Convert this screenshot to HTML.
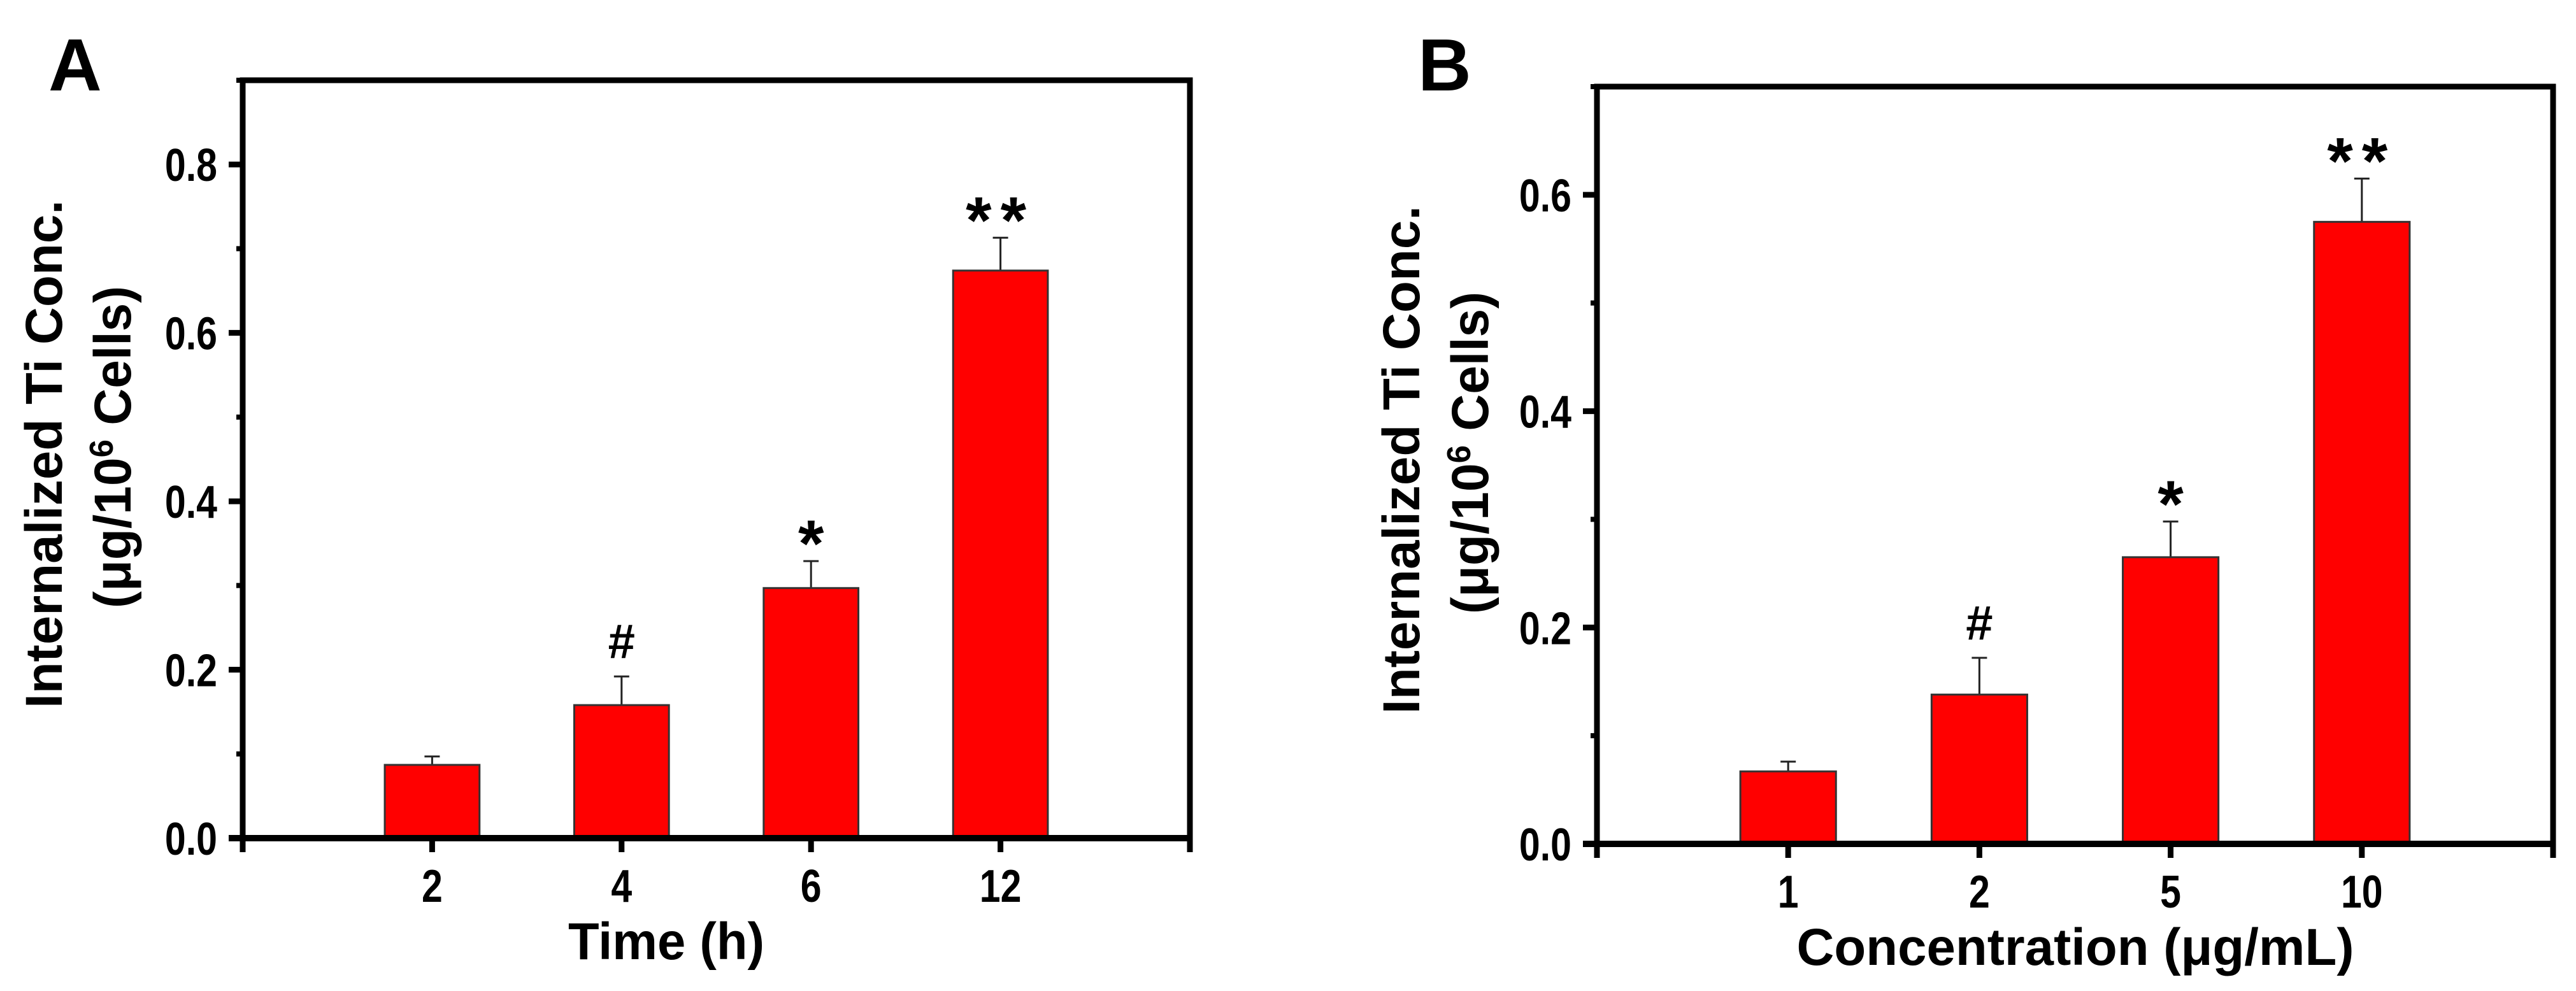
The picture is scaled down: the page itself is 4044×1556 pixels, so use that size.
<!DOCTYPE html>
<html><head><meta charset="utf-8">
<style>
html,body{margin:0;padding:0;background:#fff;}
svg{display:block;}
text{font-family:"Liberation Sans",Arial,sans-serif;font-weight:bold;fill:#000;}
</style></head>
<body>
<svg id="fig" width="4044" height="1556" viewBox="0 0 4044 1556" xmlns="http://www.w3.org/2000/svg"></svg>
<script>
// Panel A data
const catsA = ["2","4","6","12"];
const valsA = [0.087,0.158,0.297,0.674];
const errsA = [0.010,0.034,0.032,0.039];
const sigA = ["","#","*","**"];
const ticksA = [0.0,0.2,0.4,0.6,0.8];
// Panel B data
const catsB = ["1","2","5","10"];
const valsB = [0.067,0.138,0.265,0.575];
const errsB = [0.009,0.034,0.033,0.040];
const sigB = ["","#","*","**"];
const ticksB = [0.0,0.2,0.4,0.6];

const NS="http://www.w3.org/2000/svg";
const svg=document.getElementById('fig');
function mk(tag,attrs,parent){const e=document.createElementNS(NS,tag);for(const k in attrs)e.setAttribute(k,attrs[k]);(parent||svg).appendChild(e);return e;}

function panel(cfg){
  const g=mk('g',{});
  
  
  const L=cfg.left,R=cfg.right,T=cfg.top,B=cfg.bottom,ymax=cfg.ymax;
  const y=v=>B-(v/ymax)*(B-T);
  const unit=(R-L)/5;
  const x=i=>L+unit*(i+1);
  cfg.vals.forEach((v,i)=>{
    const bw=unit*0.5;
    const et=y(v+cfg.errs[i]);
    const er=mk('path',{d:`M${x(i)} ${y(v)} V${et} M${x(i)-12} ${et} H${x(i)+12}`,stroke:'#222','stroke-width':3,fill:'none'},g);
    
    
    const r=mk('rect',{x:x(i)-bw/2,y:y(v),width:bw,height:B-y(v),fill:'#ff0000',stroke:'#333','stroke-width':3},g);
    
    
    if(cfg.sig[i]){
      const isHash=cfg.sig[i]==='#';
      const s=mk('text',{x:x(i),y:isHash?et-29:et+8,'text-anchor':'middle','font-size':isHash?76:104,'font-weight':'normal','letter-spacing':cfg.sig[i]==='**'?14:0},g);
      s.textContent=cfg.sig[i];
      
      
    }
    const tk=mk('line',{x1:x(i),x2:x(i),y1:B,y2:B+22,stroke:'#000','stroke-width':9},g);
    
    
    const tl=mk('text',{transform:`translate(${x(i)},${B+100}) scale(0.82,1)`,'text-anchor':'middle','font-size':72},g);
    tl.textContent=cfg.cats[i];
    
    
  });
  cfg.ticks.forEach(t=>{
    const tk=mk('line',{x1:L-22,x2:L,y1:y(t),y2:y(t),stroke:'#000','stroke-width':9},g);
    
    
    const mt=mk('line',{x1:L-10,x2:L,y1:y(t+0.1),y2:y(t+0.1),stroke:'#000','stroke-width':8},g);
    
    
    const tl=mk('text',{transform:`translate(${L-40},${y(t)+26}) scale(0.82,1)`,'text-anchor':'end','font-size':72},g);
    tl.textContent=t.toFixed(1);
    
    
  });
  const fr=mk('rect',{x:L,y:T,width:R-L,height:B-T,fill:'none',stroke:'#000','stroke-width':9},g);
  
  
  const xb=mk('line',{x1:L-22,x2:R,y1:B,y2:B,stroke:'#000','stroke-width':10},g);
  
  
  const rt=mk('line',{x1:R,x2:R,y1:B,y2:B+22,stroke:'#000','stroke-width':9},g);
  
  
  const lt=mk('line',{x1:L,x2:L,y1:B,y2:B+22,stroke:'#000','stroke-width':9},g);
  
  
  const yt=mk('text',{transform:`translate(${cfg.ylx},${cfg.yc1}) rotate(-90)`,'text-anchor':'middle','font-size':82,textLength:798,lengthAdjust:'spacingAndGlyphs'},g);
  yt.textContent='Internalized Ti Conc.';
  
  
  const yt2=mk('text',{transform:`translate(${cfg.ylx+108},${cfg.yc2}) rotate(-90)`,'text-anchor':'middle','font-size':82,textLength:506,lengthAdjust:'spacingAndGlyphs'},g);
  yt2.innerHTML='(μg/10<tspan dy="-28" font-size="52">6</tspan><tspan dy="28"> Cells)</tspan>';
  
  
  const xt=mk('text',{x:cfg.xtx,y:B+190,'text-anchor':'middle','font-size':82,textLength:cfg.xtw,lengthAdjust:'spacingAndGlyphs'},g);
  xt.textContent=cfg.xtitle;
  
  
  const pl=mk('text',{x:cfg.lx,y:142,'font-size':116},g);
  pl.textContent=cfg.letter;
  
  
}
panel({name:'panel-a',left:381,right:1868,top:126,bottom:1316,ymax:0.9,cats:catsA,vals:valsA,errs:errsA,sig:sigA,ticks:ticksA,ylx:97,yc1:713,yc2:702,xtx:1046,xtw:308,xtitle:'Time (h)',letter:'A',lx:76});
panel({name:'panel-b',left:2507,right:4008,top:136,bottom:1325,ymax:0.7,cats:catsB,vals:valsB,errs:errsB,sig:sigB,ticks:ticksB,ylx:2228,yc1:722,yc2:711,xtx:3258,xtw:875,xtitle:'Concentration (μg/mL)',letter:'B',lx:2226});
</script>
</body></html>
